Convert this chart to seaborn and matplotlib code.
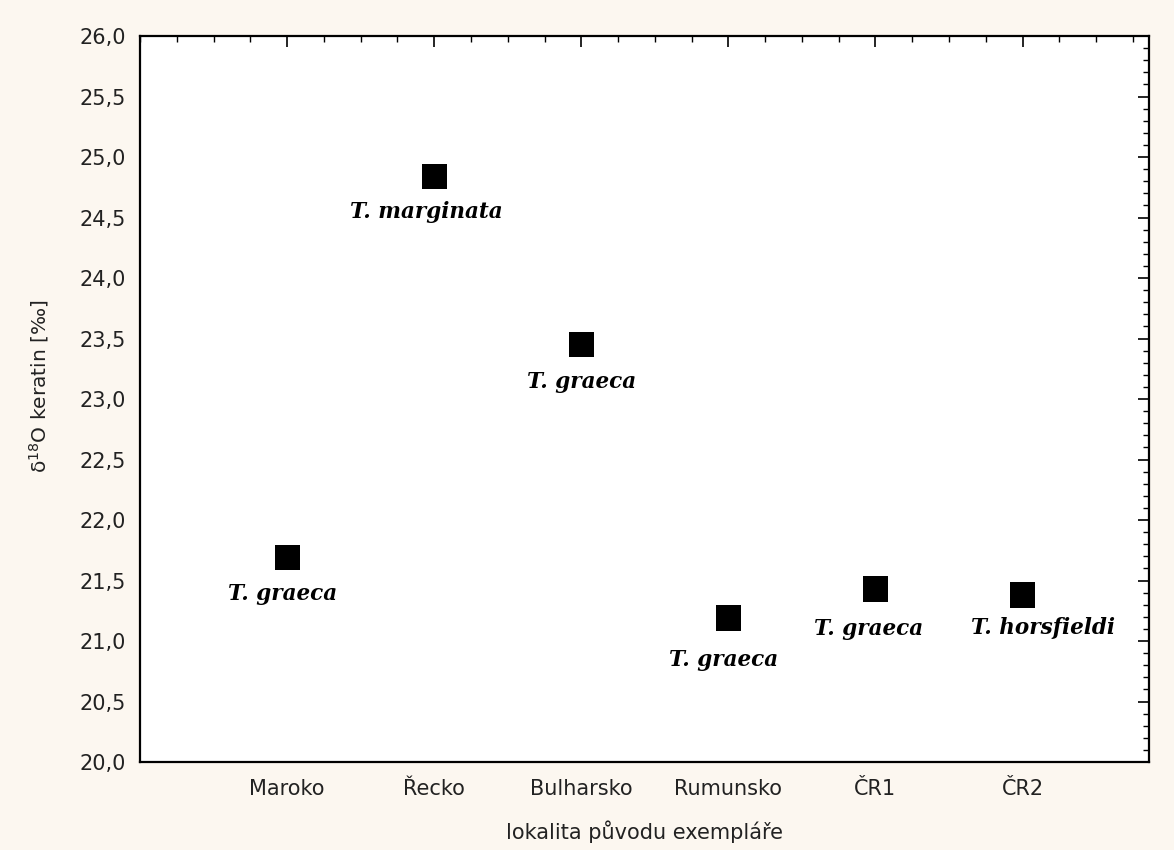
import matplotlib
matplotlib.use("Agg")
import matplotlib.pyplot as plt
import seaborn as sns
import pandas as pd
from matplotlib.ticker import MultipleLocator, FuncFormatter

# Sample origin localities and oxygen isotope values of keratin
localities = ["Maroko", "Řecko", "Bulharsko", "Rumunsko", "ČR1", "ČR2"]
d18o_values = [21.69, 24.84, 23.45, 21.19, 21.43, 21.38]
species = ["T. graeca", "T. marginata", "T. graeca", "T. graeca", "T. graeca", "T. horsfieldi"]

df = pd.DataFrame({"lokalita": localities, "d18O": d18o_values, "druh": species})

sns.set_style("white")
plt.rcParams["font.family"] = ["DejaVu Sans"]

fig = plt.figure(figsize=(11.74, 8.5), dpi=100, facecolor="#fcf7f0")
ax = fig.add_axes([0.1193, 0.1035, 0.8594, 0.8541])
ax.set_facecolor("white")

sns.scatterplot(data=df, x="lokalita", y="d18O", marker="s", color="black",
                s=330, edgecolor="none", ax=ax, legend=False)

# species label below each point (pixel offsets)
offsets = [(-5, -36), (-8, -36), (0, -37), (-5, -42), (-7, -40), (20, -33)]
for i, (name, val, (dx, dy)) in enumerate(zip(species, d18o_values, offsets)):
    ax.annotate(name, (i, val), xytext=(dx, dy), textcoords="offset pixels",
                ha="center", va="center", fontsize=15.5, fontweight="bold",
                fontstyle="italic", family="DejaVu Serif", color="black")

ax.set_xlim(-1.0, 5.86)
ax.set_ylim(20, 26)
ax.yaxis.set_major_locator(MultipleLocator(0.5))
ax.yaxis.set_minor_locator(MultipleLocator(0.1))
ax.xaxis.set_minor_locator(MultipleLocator(0.25))
ax.yaxis.set_major_formatter(FuncFormatter(lambda v, p: f"{v:.1f}".replace(".", ",")))

ax.tick_params(axis="both", which="both", direction="in", top=True, right=True,
               colors="black", labelcolor="#222222")
ax.tick_params(axis="both", which="major", length=8, width=1.2, labelsize=15, pad=10)
ax.tick_params(axis="x", which="major", pad=12)
ax.tick_params(axis="both", which="minor", length=4, width=1.0)

for side in ["left", "bottom", "top", "right"]:
    ax.spines[side].set_visible(True)
    ax.spines[side].set_color("black")
    ax.spines[side].set_linewidth(1.6)

ax.set_xlabel("lokalita původu exempláře", fontsize=15, color="#222222")
ax.xaxis.set_label_coords(0.5, -0.080)
ax.set_ylabel("δ$^{18}$O keratin [‰]", fontsize=14.5, color="#222222")
ax.yaxis.set_label_coords(-0.088, 0.518)

fig.savefig("out.png", dpi=100, facecolor=fig.get_facecolor())
